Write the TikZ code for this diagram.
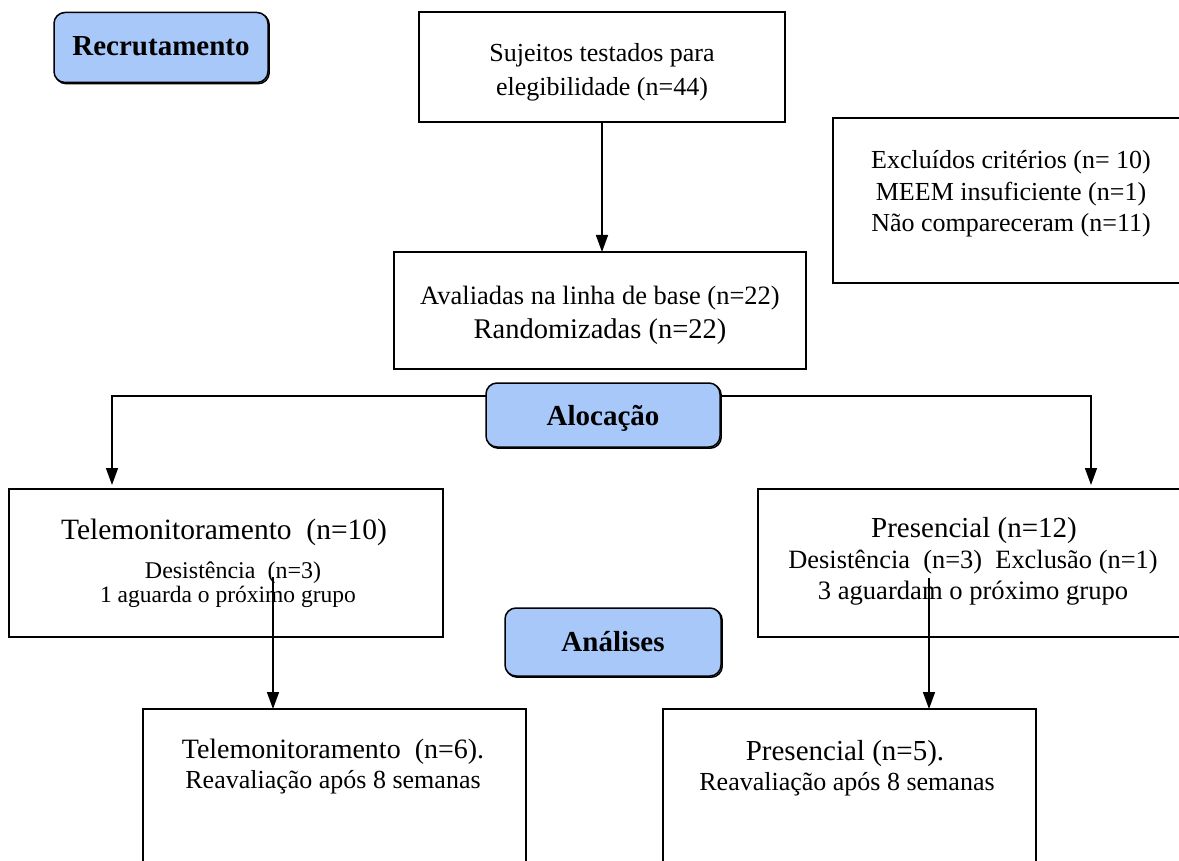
\documentclass[tikz,border=0pt]{standalone}
\usepackage{fontspec}
\setmainfont{Liberation Serif}
\usetikzlibrary{arrows.meta}
\definecolor{lblue}{RGB}{168,200,250}
\newcommand\fsz[1]{\fontsize{#1}{#1}\selectfont}
\begin{document}
\begin{tikzpicture}[x=1pt,y=-1pt,
  box/.style={draw=black, line width=1.6pt, inner sep=0pt, outer sep=0pt, fill=white},
  tag/.style={draw=black, line width=1.5pt, rounded corners=11pt, fill=lblue, inner sep=0pt, outer sep=0pt,
    preaction={draw=black, line width=1.5pt, transform canvas={xshift=1.2pt,yshift=-1.2pt}}},
  arr/.style={line width=1.6pt, -{Triangle[length=17pt,width=12pt]}},
  txt/.style={inner sep=0pt, outer sep=0pt, anchor=base}]
\useasboundingbox (0,0) rectangle (1179,861);
\clip (0,0) rectangle (1179,861);
\fill[white] (0,0) rectangle (1179,861);

% boxes
\node[tag, minimum width=214pt, minimum height=70pt] (rec) at (161,47.5) {};
\node[box, minimum width=366pt, minimum height=110pt] (top) at (602,67) {};
\node[box, minimum width=412pt, minimum height=117pt] (base) at (600,310.5) {};
\node[box, minimum width=362pt, minimum height=165pt] (excl) at (1014,200.5) {};
\node[tag, minimum width=234pt, minimum height=64pt] (aloc) at (603,415) {};
\node[box, minimum width=434pt, minimum height=148pt] (tele) at (226,563) {};
\node[box, minimum width=437pt, minimum height=148pt] (pres) at (976.5,563) {};
\node[tag, minimum width=216pt, minimum height=68pt] (anal) at (613,642) {};
\node[box, minimum width=383pt, minimum height=171pt] (bl) at (334.5,794.5) {};
\node[box, minimum width=373pt, minimum height=171pt] (br) at (849.5,794.5) {};

% texts
\node[txt] (trec) at (161,56) {\fsz{29}\bfseries Recrutamento};
\node[txt] (ttop1) at (602,62) {\fsz{26}Sujeitos testados para};
\node[txt] (ttop2) at (602,96) {\fsz{26}elegibilidade (n=44)};
\node[txt] (tbase1) at (600,305) {\fsz{26.5}Avaliadas na linha de base (n=22)};
\node[txt] (tbase2) at (600,338) {\fsz{28.5}Randomizadas (n=22)};
\node[txt] (texcl1) at (1011,169) {\fsz{26}Excluídos critérios (n= 10)};
\node[txt] (texcl2) at (1011,201) {\fsz{26}MEEM insuficiente (n=1)};
\node[txt] (texcl3) at (1011,232) {\fsz{26}Não compareceram (n=11)};
\node[txt] (taloc) at (603,425) {\fsz{29}\bfseries Alocação};
\node[txt] (ttele1) at (224,539) {\fsz{29.5}Telemonitoramento\ \ (n=10)};
\node[txt] (ttele2) at (233,578) {\fsz{24}Desistência\ \ (n=3)};
\node[txt] (ttele3) at (228,602) {\fsz{23.5}1 aguarda o próximo grupo};
\node[txt] (tpres1) at (974,537) {\fsz{29}Presencial (n=12)};
\node[txt] (tpres2) at (973,568) {\fsz{26.4}Desistência\ \ (n=3)\ \ Exclusão (n=1)};
\node[txt] (tpres3) at (973,599) {\fsz{26.6}3 aguardam o próximo grupo};
\node[txt] (tanal) at (613,651) {\fsz{29}\bfseries Análises};
\node[txt] (tbl1) at (333,758) {\fsz{28}Telemonitoramento\ \ (n=6).};
\node[txt] (tbl2) at (333,788) {\fsz{26}Reavaliação após 8 semanas};
\node[txt] (tbr1) at (845,760) {\fsz{29}Presencial (n=5).};
\node[txt] (tbr2) at (847,790) {\fsz{26}Reavaliação após 8 semanas};

% connectors
\draw[arr] (top.south) -- (top.south |- base.north);
\draw[arr] ([yshift=-13pt]aloc.north west) -| ([xshift=103pt,yshift=4pt]tele.north west);
\draw[arr] ([yshift=-13pt]aloc.north east) -| ([xshift=333pt,yshift=4pt]pres.north west);
\coordinate (t1) at (273,577);
\coordinate (p1) at (929,578);
\draw[arr] (t1) -- (t1 |- bl.north);
\draw[arr] (p1) -- (p1 |- br.north);
\end{tikzpicture}
\end{document}
